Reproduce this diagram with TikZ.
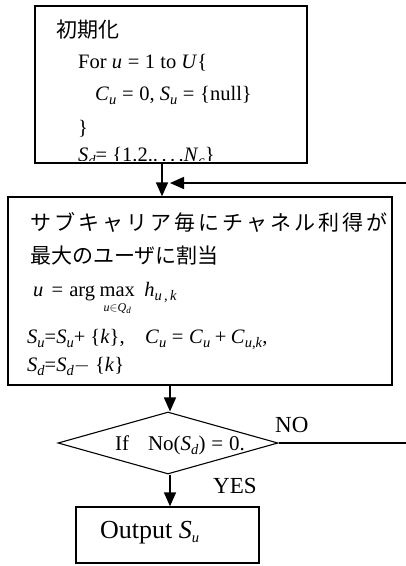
\documentclass[tikz,border=0pt]{standalone}
\usepackage{fontspec}
\setmainfont{Liberation Serif}
\newfontfamily\cjk{Noto Sans CJK JP}
\usetikzlibrary{arrows.meta,shapes.geometric}
\newcommand{\iv}[1]{\textit{#1}}
\newcommand{\sbs}[1]{\raisebox{-4.5pt}{\fontsize{14.5}{15}\selectfont #1}}
\newcommand{\rel}{\hspace{0.278em}=\hspace{0.278em}}
\newcommand{\bin}[1]{\hspace{0.222em}#1\hspace{0.222em}}
\tikzset{
  boxline/.style={draw, line width=1.3pt},
  txt/.style={inner sep=0pt, anchor=base west, font=\fontsize{20.5}{24}\selectfont},
  jtxt/.style={inner sep=0pt, anchor=base west, font=\fontsize{21}{24}\selectfont\cjk},
  lbl/.style={inner sep=0pt, anchor=base west, font=\fontsize{23}{26}\selectfont},
  arr/.style={line width=1.5pt, -{Triangle[length=14pt,width=12pt]}},
  plain/.style={line width=1.3pt},
}
\begin{document}
\begin{tikzpicture}[x=1pt,y=-1pt]
\useasboundingbox (0,0) rectangle (406,566);
% initialisation box
\node[boxline, minimum width=272pt, minimum height=157pt, inner sep=0pt] (init) at (171,84.5) {};
\begin{scope}
\clip (36,7) rectangle (306,160.5);
\node[jtxt] (t1) at (56,37) {初期化};
\node[txt] (t2) at (78,68) {For \iv{u}\rel 1 to \iv{U}\{};
\node[txt] (t3) at (95,100) {\iv{C}\sbs{\iv{u}}\rel 0, \iv{S}\sbs{\iv{u}}\rel\{null\}};
\node[txt] (t4) at (78,134) {\}};
\node[txt] (t5) at (78,161) {\iv{S}\sbs{\iv{d}}=\hspace{0.25em}\{1.2..\,.\,.\,.\iv{N}\sbs{\iv{c}}\}};
\end{scope}
% allocation box
\node[boxline, minimum width=384pt, minimum height=188pt, inner sep=0pt] (alloc) at (200,291) {};
\node[jtxt] (m1) at (30,230) {\makebox[357pt][s]{サ\hfill ブ\hfill キ\hfill ャ\hfill リ\hfill ア\hfill 毎\hfill に\hfill チ\hfill ャ\hfill ネ\hfill ル\hfill 利\hfill 得\hfill が}};
\node[jtxt] (m2) at (30,263) {最大のユーザに割当};
\node[txt] (m3a) at (33,296) {\iv{u}\hspace{0.4em}=\hspace{0.3em}arg};
\node[txt] (m3b) at ([xshift=4pt]m3a.base east) {max};
\node[inner sep=0pt, anchor=north, font=\fontsize{12}{12}\selectfont] (m3c) at ([yshift=-7pt]m3b.south) {\iv{u}$\in$\iv{Q}\raisebox{-2pt}{\fontsize{9}{9}\selectfont\iv{d}}};
\node[txt] (m3d) at ([xshift=9pt]m3b.base east) {\iv{h}\sbs{\iv{u}\,,\,\iv{k}}};
\node[txt] (m4) at (27,343) {\iv{S}\sbs{\iv{u}}=\iv{S}\sbs{\iv{u}}+\hspace{0.25em}\{\iv{k}\},\hspace{1em}\iv{C}\sbs{\iv{u}}\rel\iv{C}\sbs{\iv{u}}\bin{+}\iv{C}\sbs{\iv{u},\iv{k}},};
\node[txt] (m5) at (27,371) {\iv{S}\sbs{\iv{d}}=\iv{S}\sbs{\iv{d}}$-$\hspace{0.25em}\{\iv{k}\}};
% decision
\node[diamond, draw, line width=1.1pt, minimum width=220pt, minimum height=62pt, inner sep=0pt] (dec) at (168,443) {};
\node[txt, font=\fontsize{21}{24}\selectfont] (dectxt) at (115,450) {If\hspace{0.9em}No(\iv{S}\sbs{\iv{d}})\rel 0.};
\node[lbl] (no) at (275,432) {NO};
\node[lbl] (yes) at (213,493) {YES};
% output
\node[boxline, minimum width=183pt, minimum height=56pt, inner sep=0pt] (out) at (167.5,535) {};
\node[txt, font=\fontsize{26}{28}\selectfont] (outtxt) at (100,538) {Output \iv{S}\sbs{\iv{u}}};
% connectors
\coordinate (fbin) at (406,183);
\coordinate (noout) at (406,443);
\draw[arr] (init.south -| 162,0) -- (alloc.north -| 162,0);
\draw[arr] (fbin) -- (170,183);
\draw[arr] (alloc.south -| 170,0) -- (dec.north -| 170,0);
\draw[arr] (dec.south -| 170,0) -- (out.north -| 170,0);
\draw[plain] (dec.east) -- (noout);
\end{tikzpicture}
\end{document}
